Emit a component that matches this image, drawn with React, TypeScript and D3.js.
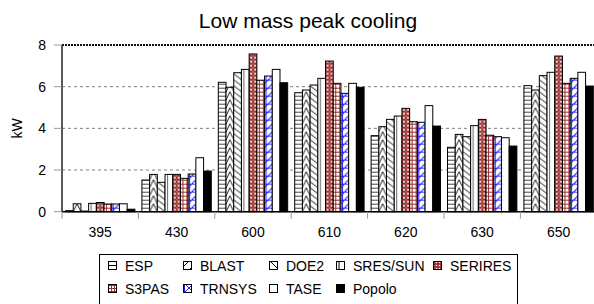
import React from "react";
import * as d3 from "d3";

const categories = ["395", "430", "600", "610", "620", "630", "650"];
const seriesNames = ["ESP", "BLAST", "DOE2", "SRES/SUN", "SERIRES", "S3PAS", "TRNSYS", "TASE", "Popolo"];
const esp = [0.05, 1.52, 6.21, 5.71, 3.65, 3.09, 6.05];
const blast = [0.38, 1.79, 5.97, 5.84, 4.08, 3.71, 5.84];
const doe2 = [0.03, 1.41, 6.67, 6.08, 4.43, 3.6, 6.53];
const sres = [0.4, 1.79, 6.83, 6.4, 4.59, 4.13, 6.69];
const serires = [0.44, 1.79, 7.57, 7.23, 4.96, 4.43, 7.47];
const s3pas = [0.37, 1.6, 6.31, 6.16, 4.32, 3.67, 6.16];
const trnsys = [0.37, 1.81, 6.51, 5.68, 4.29, 3.6, 6.4];
const tase = [0.38, 2.59, 6.83, 6.16, 5.09, 3.55, 6.69];
const popolo = [0.12, 1.95, 6.19, 5.97, 4.11, 3.15, 6.03];
const seriesValues = [esp, blast, doe2, sres, serires, s3pas, trnsys, tase, popolo];
const yTicks = [0, 2, 4, 6, 8];
const title = "Low mass peak cooling";
const yLabel = "kW";

const W = 594;
const H = 304;
const plotLeft = 62;
const step = 76.4;
const plotRight = plotLeft + step * categories.length;
const plotTop = 45;
const plotBottom = 211.7;
const font = "Liberation Sans, Arial, sans-serif";

const fills = ["url(#pESP)", "url(#pBLAST)", "url(#pDOE2)", "url(#pSRES)", "url(#pSERIRES)", "url(#pS3PAS)", "url(#pTRNSYS)", "#fff", "#000"];
const iconFills = ["url(#iESP)", "url(#iBLAST)", "url(#iDOE2)", "url(#iSRES)", "url(#iSERIRES)", "url(#iS3PAS)", "url(#iTRNSYS)", "#fff", "#000"];
const legendCols = [108, 183, 269, 336, 433];
const legendRows = [266, 289];

export default function App() {
  const x = d3.scaleBand<string>().domain(categories).range([plotLeft, plotRight]).paddingInner(0.092).paddingOuter(0.046);
  const xs = d3.scaleBand<string>().domain(seriesNames).range([0, x.bandwidth()]).padding(0);
  const y = d3.scaleLinear().domain([0, 8]).range([plotBottom, plotTop]);
  const bw = xs.bandwidth();
  const red = "#9c2b2b";
  const blue = "#1a1aff";

  return (
    <svg width={W} height={H} style={{ position: "absolute", left: 0, top: 0, background: "#fff" }}>
      <defs>
        <pattern id="pESP" patternUnits="userSpaceOnUse" width={bw} height={4}>
          <rect width={bw} height={4} fill="#fff" />
          <line x1={0} x2={bw} y1={0.5} y2={0.5} stroke="#444" strokeWidth={1} />
        </pattern>
        <pattern id="pBLAST" patternUnits="userSpaceOnUse" width={bw} height={8}>
          <rect width={bw} height={8} fill="#fff" />
          <path d={`M0,8 L${bw / 2},0 L${bw},8`} fill="none" stroke="#000" strokeWidth={0.9} />
        </pattern>
        <pattern id="pDOE2" patternUnits="userSpaceOnUse" width={bw} height={6}>
          <rect width={bw} height={6} fill="#fff" />
          <path d={`M0,-6 L${bw},0 M0,0 L${bw},6`} fill="none" stroke="#000" strokeWidth={0.9} />
        </pattern>
        <pattern id="pSRES" patternUnits="userSpaceOnUse" width={bw} height={4}>
          <rect width={bw} height={4} fill="#fff" />
          <line x1={2.5} x2={2.5} y1={0} y2={4} stroke="#666" strokeWidth={1} />
        </pattern>
        <pattern id="pSERIRES" patternUnits="userSpaceOnUse" width={4} height={4}>
          <rect width={4} height={4} fill={red} />
          <circle cx={2} cy={2} r={1.1} fill="#fff" />
          <circle cx={0} cy={0} r={0.6} fill="#fff" />
          <circle cx={4} cy={0} r={0.6} fill="#fff" />
          <circle cx={0} cy={4} r={0.6} fill="#fff" />
          <circle cx={4} cy={4} r={0.6} fill="#fff" />
        </pattern>
        <pattern id="pS3PAS" patternUnits="userSpaceOnUse" width={4} height={4}>
          <rect width={4} height={4} fill="#fff" />
          <line x1={0} x2={4} y1={0.5} y2={0.5} stroke={red} strokeWidth={1} />
          <line x1={2.5} x2={2.5} y1={0} y2={4} stroke={red} strokeWidth={1} />
        </pattern>
        <pattern id="pTRNSYS" patternUnits="userSpaceOnUse" width={bw} height={8}>
          <rect width={bw} height={8} fill="#fff" />
          <line x1={1.5} x2={1.5} y1={0} y2={8} stroke={blue} strokeWidth={1} />
          <line x1={0} x2={bw} y1={8} y2={0} stroke={blue} strokeWidth={1} />
          <line x1={0} x2={bw} y1={4.5} y2={4.5} stroke={blue} strokeWidth={0.8} />
        </pattern>
        <pattern id="iESP" patternUnits="userSpaceOnUse" width={9} height={9}>
          <rect width={9} height={9} fill="#fff" />
          <line x1={0} x2={9} y1={4.5} y2={4.5} stroke="#000" />
        </pattern>
        <pattern id="iBLAST" patternUnits="userSpaceOnUse" width={9} height={9}>
          <rect width={9} height={9} fill="#fff" />
          <line x1={0} x2={9} y1={9} y2={0} stroke="#000" />
        </pattern>
        <pattern id="iDOE2" patternUnits="userSpaceOnUse" width={9} height={9}>
          <rect width={9} height={9} fill="#fff" />
          <line x1={0} x2={9} y1={0} y2={9} stroke="#000" />
        </pattern>
        <pattern id="iSRES" patternUnits="userSpaceOnUse" width={9} height={9}>
          <rect width={9} height={9} fill="#fff" />
          <line x1={3} x2={3} y1={0} y2={9} stroke="#000" />
          <line x1={6} x2={6} y1={0} y2={9} stroke="#000" />
        </pattern>
        <pattern id="iSERIRES" patternUnits="userSpaceOnUse" width={3} height={3}>
          <rect width={3} height={3} fill={red} />
          <circle cx={1.5} cy={1.5} r={0.8} fill="#fff" />
        </pattern>
        <pattern id="iS3PAS" patternUnits="userSpaceOnUse" width={3} height={3}>
          <rect width={3} height={3} fill="#fff" />
          <line x1={0} x2={3} y1={0.5} y2={0.5} stroke={red} />
          <line x1={0.5} x2={0.5} y1={0} y2={3} stroke={red} />
        </pattern>
        <pattern id="iTRNSYS" patternUnits="userSpaceOnUse" width={9} height={9}>
          <rect width={9} height={9} fill="#fff" />
          <path d="M4.5,0 V9 M0,4.5 H9 M0,0 L9,9 M9,0 L0,9" stroke={blue} strokeWidth={1} fill="none" />
        </pattern>
      </defs>

      <text x={308} y={28} textAnchor="middle" fontFamily={font} fontSize={21} fill="#000">{title}</text>

      {yTicks.filter((t) => t > 0 && t < 8).map((t) => (
        <line key={"g" + t} x1={plotLeft} x2={plotRight} y1={y(t)} y2={y(t)} stroke="#808080" strokeDasharray="3,3" strokeWidth={1} />
      ))}
      <line x1={plotLeft} x2={plotRight} y1={y(8)} y2={y(8)} stroke="#111" strokeWidth={2} strokeDasharray="2,1" />

      {seriesValues.map((vals, si) => (
        <g key={seriesNames[si]}>
          {vals.map((v, ci) => {
            const bx = (x(categories[ci]) as number) + (xs(seriesNames[si]) as number);
            const h = plotBottom - y(v);
            return (
              <g key={ci} transform={`translate(${bx},${plotBottom})`}>
                <rect x={0} y={-h} width={bw} height={h} fill={fills[si]} stroke="#000" strokeWidth={1} />
              </g>
            );
          })}
        </g>
      ))}

      <line x1={plotLeft} x2={plotLeft} y1={plotTop} y2={plotBottom} stroke="#222" strokeWidth={1.5} />
      <line x1={plotLeft} x2={plotRight} y1={plotBottom} y2={plotBottom} stroke="#000" strokeWidth={1.5} />
      {yTicks.map((t) => (
        <g key={"yt" + t}>
          <line x1={plotLeft - 8} x2={plotLeft} y1={y(t)} y2={y(t)} stroke="#999" strokeWidth={1} />
          <text x={plotLeft - 16} y={y(t)} dy="0.35em" textAnchor="end" fontFamily={font} fontSize={14} fill="#000">{t}</text>
        </g>
      ))}
      {d3.range(categories.length + 1).map((i) => (
        <line key={"xt" + i} x1={plotLeft + i * step} x2={plotLeft + i * step} y1={plotBottom} y2={plotBottom + 7} stroke="#999" strokeWidth={1} />
      ))}
      {categories.map((c) => (
        <text key={"xl" + c} x={(x(c) as number) + x.bandwidth() / 2} y={237} textAnchor="middle" fontFamily={font} fontSize={14} fill="#000">{c}</text>
      ))}

      <text transform={`translate(22,${(plotTop + plotBottom) / 2}) rotate(-90)`} textAnchor="middle" fontFamily={font} fontSize={14} fill="#000">{yLabel}</text>

      <rect x={99.5} y={254.5} width={418} height={60} fill="#fff" stroke="#000" strokeWidth={1} />
      {seriesNames.map((name, i) => {
        const row = i < 5 ? 0 : 1;
        const col = i < 5 ? i : i - 5;
        const lx = legendCols[col];
        const ly = legendRows[row];
        return (
          <g key={"lg" + name}>
            <rect x={lx + 0.5} y={ly - 4.5} width={8} height={8} fill={iconFills[i]} stroke="#000" strokeWidth={1} />
            <text x={lx + 17} y={ly} dy="0.35em" fontFamily={font} fontSize={14} fill="#000">{name}</text>
          </g>
        );
      })}
    </svg>
  );
}
